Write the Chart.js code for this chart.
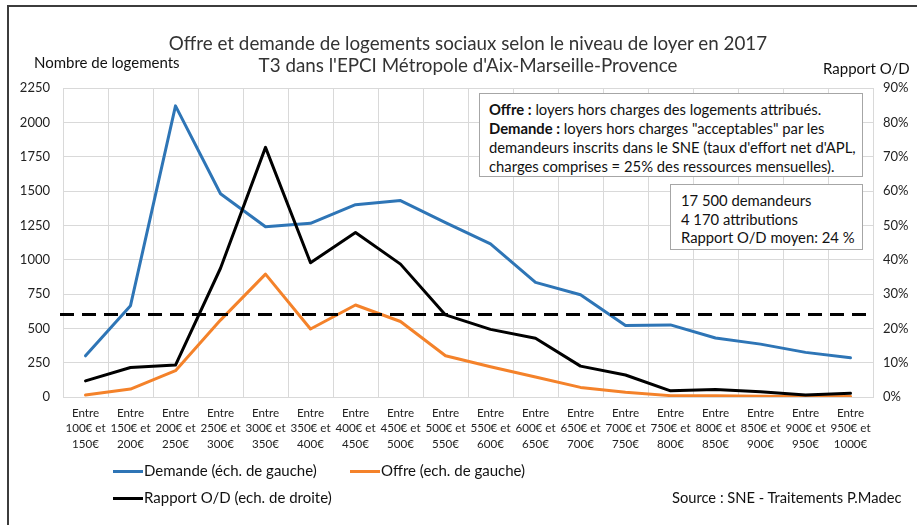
<!DOCTYPE html>
<html lang="fr">
<head>
<meta charset="utf-8">
<title>Offre et demande de logements sociaux</title>
<script src="https://cdn.jsdelivr.net/npm/chart.js@4.4.1/dist/chart.umd.min.js"></script>
<style>
  html, body { margin: 0; padding: 0; background: #fff; }
  body { font-family: Lato, "Open Sans", sans-serif; color: #262626; }
  #wrap { position: relative; width: 917px; height: 525px; overflow: hidden; }
  #frame { position: absolute; left: 7px; top: 5px; width: 940px; height: 560px; border: 2px solid #3c3c3c; box-sizing: border-box; }
  #chart { position: absolute; left: 0; top: 0; }
  .txt { position: absolute; white-space: nowrap; }
  .title { left: 0; width: 936px; text-align: center; font-size: 18.8px; line-height: 22px; color: #333; }
  .axis-title { font-size: 15px; line-height: 18px; color: #111; }
  .box { position: absolute; background: #fff; border: 1px solid #a6a6a6; box-sizing: border-box; font-size: 14.8px; color: #111; }
  .legend { font-size: 15px; line-height: 18px; color: #111; }
  .legend i { display: inline-block; width: 30px; height: 3px; vertical-align: middle; margin-right: 1px; position: relative; top: -1px; }
</style>
</head>
<body>
<div id="wrap">
  <div id="frame"></div>
  <canvas id="chart" width="917" height="525"></canvas>

  <div class="txt title" style="top:32px">Offre et demande de logements sociaux selon le niveau de loyer en 2017</div>
  <div class="txt title" style="top:54px">T3 dans l'EPCI Métropole d'Aix-Marseille-Provence</div>
  <div class="txt axis-title" style="left:34px; top:53px">Nombre de logements</div>
  <div class="txt axis-title" style="left:823px; top:59px">Rapport O/D</div>

  <div class="box" style="left:479px; top:93px; width:384px; height:84px; padding:6px 0 0 9px; line-height:19px;">
    <b>Offre :</b> loyers hors charges des logements attribués.<br>
    <b>Demande :</b> loyers hors charges "acceptables" par les<br>
    demandeurs inscrits dans le SNE (taux d'effort net d'APL,<br>
    charges comprises = 25% des ressources mensuelles).
  </div>
  <div class="box" style="left:670px; top:184px; width:193px; height:66px; padding:6px 0 0 10px; line-height:18.7px;">
    17 500 demandeurs<br>
    4 170 attributions<br>
    Rapport O/D moyen: 24 %
  </div>

  <div class="txt legend" style="left:113px; top:461px"><i style="background:#2e75b6"></i>Demande (éch. de gauche)</div>
  <div class="txt legend" style="left:350px; top:461px"><i style="background:#f4822a"></i>Offre (ech. de gauche)</div>
  <div class="txt legend" style="left:113px; top:488px"><i style="background:#000"></i>Rapport O/D (ech. de droite)</div>
  <div class="txt legend" style="left:672px; top:488px; font-size:14.7px">Source : SNE - Traitements P.Madec</div>
</div>

<script>
// Tranches de loyer (une étiquette sur trois lignes par tranche)
const rentBands = [
    ['Entre', '100€ et', '150€'], ['Entre', '150€ et', '200€'], ['Entre', '200€ et', '250€'],
    ['Entre', '250€ et', '300€'], ['Entre', '300€ et', '350€'], ['Entre', '350€ et', '400€'],
    ['Entre', '400€ et', '450€'], ['Entre', '450€ et', '500€'], ['Entre', '500€ et', '550€'],
    ['Entre', '550€ et', '600€'], ['Entre', '600€ et', '650€'], ['Entre', '650€ et', '700€'],
    ['Entre', '700€ et', '750€'], ['Entre', '750€ et', '800€'], ['Entre', '800€ et', '850€'],
    ['Entre', '850€ et', '900€'], ['Entre', '900€ et', '950€'], ['Entre', '950€ et', '1000€']
];

// Nombre de logements (échelle de gauche)
const demande = [300, 665, 2120, 1480, 1240, 1265, 1400, 1430, 1270, 1115, 835, 745, 520, 525, 430, 385, 325, 285];
const offre = [14, 58, 192, 560, 895, 495, 670, 550, 300, 220, 145, 70, 35, 10, 9, 6, 2, 3];

// Rapport offre / demande en % (échelle de droite)
const rapport = [4.7, 8.6, 9.3, 37.5, 72.7, 39.1, 47.9, 38.7, 23.9, 19.7, 17.1, 9.0, 6.4, 1.8, 2.2, 1.5, 0.6, 1.1];
const rapportMoyen = 24;

// Graduations des deux axes
const leftTicks = { min: 0, max: 2250, step: 250 };
const rightTicks = { min: 0, max: 90, step: 10 };

// Ligne pointillée du rapport moyen, tracée sur toute la largeur de la zone
const averageLine = {
    id: 'averageLine',
    afterDatasetsDraw(chart) {
        const { ctx, chartArea, scales } = chart;
        const y = scales.y1.getPixelForValue(rapportMoyen);
        ctx.save();
        ctx.strokeStyle = '#000';
        ctx.lineWidth = 3;
        ctx.setLineDash([14, 8]);
        ctx.beginPath();
        ctx.moveTo(chartArea.left - 3, y);
        ctx.lineTo(chartArea.right, y);
        ctx.stroke();
        ctx.restore();
    }
};

const tickFont = { family: 'Lato, sans-serif', size: 13 };

new Chart(document.getElementById('chart').getContext('2d'), {
    type: 'line',
    data: {
        labels: rentBands,
        datasets: [
            {
                label: 'Demande (éch. de gauche)',
                data: demande,
                borderColor: '#2e75b6',
                yAxisID: 'y',
                order: 2
            },
            {
                label: 'Offre (ech. de gauche)',
                data: offre,
                borderColor: '#f4822a',
                yAxisID: 'y',
                order: 1
            },
            {
                label: 'Rapport O/D (ech. de droite)',
                data: rapport,
                borderColor: '#000',
                yAxisID: 'y1',
                order: 0
            }
        ]
    },
    options: {
        responsive: false,
        animation: false,
        devicePixelRatio: 1,
        layout: { padding: { left: 8, right: 0, top: 88, bottom: 0 } },
        elements: {
            line: { borderWidth: 3, tension: 0, borderCapStyle: 'round', borderJoinStyle: 'round' },
            point: { radius: 0 }
        },
        plugins: {
            legend: { display: false },
            tooltip: { enabled: false }
        },
        scales: {
            x: {
                offset: true,
                grid: { offset: true, color: '#d9d9d9', drawTicks: false },
                border: { color: '#d9d9d9' },
                ticks: {
                    color: '#222',
                    font: { family: 'Lato, sans-serif', size: 11.6, lineHeight: 1.35 },
                    padding: 8,
                    autoSkip: false,
                    maxRotation: 0
                },
                afterFit(scale) { scale.height = 128; }
            },
            y: {
                position: 'left',
                min: leftTicks.min,
                max: leftTicks.max,
                grid: { color: '#d9d9d9', drawTicks: false },
                border: { display: false },
                ticks: {
                    stepSize: leftTicks.step,
                    color: '#222',
                    font: tickFont,
                    padding: 13,
                    callback: v => String(v)
                },
                afterFit(scale) { scale.width = 55; }
            },
            y1: {
                position: 'right',
                min: rightTicks.min,
                max: rightTicks.max,
                grid: { display: false, drawTicks: false },
                border: { display: false },
                ticks: {
                    stepSize: rightTicks.step,
                    color: '#222',
                    font: tickFont,
                    padding: 10,
                    callback: v => v + '%'
                },
                afterFit(scale) { scale.width = 44; }
            }
        }
    },
    plugins: [averageLine]
});
</script>
</body>
</html>
